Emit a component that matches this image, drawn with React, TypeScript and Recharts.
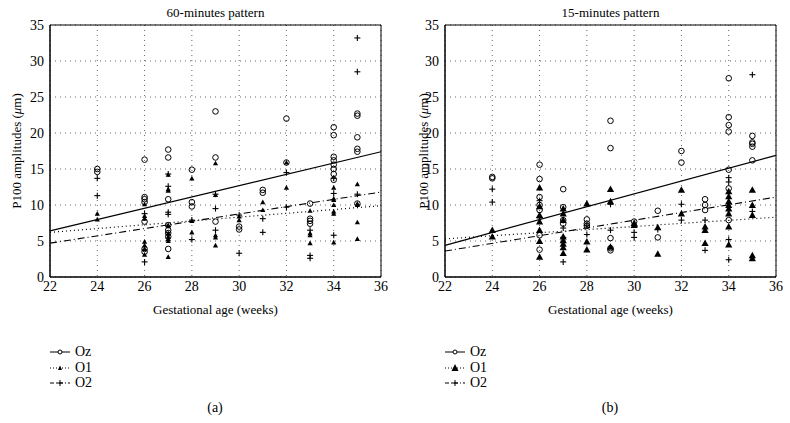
import React from "react";
import {
  ScatterChart,
  Scatter,
  XAxis,
  YAxis,
  CartesianGrid,
  ReferenceLine,
  ReferenceArea,
  Label,
} from "recharts";

// gestational weeks on the x axis, amplitude ticks on the y axis
const weekTicks = [22, 24, 26, 28, 30, 32, 34, 36];
const ampTicks = [0, 5, 10, 15, 20, 25, 30, 35];

// [week, amplitudes]
const oz60: [number, number[]][] = [
  [24, [15.0, 14.6]],
  [26, [16.3, 11.1, 10.8, 10.4, 7.7, 3.9, 3.5]],
  [27, [17.7, 16.6, 10.8, 7.2, 6.5, 6.1, 5.6, 3.9]],
  [28, [14.9, 10.4, 9.8]],
  [29, [23.0, 16.6, 7.7]],
  [30, [7.0, 6.6]],
  [31, [12.1, 11.7]],
  [32, [22.0, 15.9]],
  [33, [10.2, 8.1, 7.8, 7.4]],
  [34, [20.8, 19.7, 16.7, 16.2, 15.6, 15.0, 14.3, 13.5]],
  [35, [22.7, 22.4, 19.4, 17.8, 17.4, 10.2]],
];
const o160: [number, number[]][] = [
  [24, [8.8, 8.0]],
  [26, [10.1, 8.5, 8.1, 4.9, 4.4, 3.9, 3.1]],
  [27, [14.2, 12.2, 12.0, 7.2, 6.1, 5.6, 5.3, 5.0, 2.8]],
  [28, [13.7, 7.8, 6.2]],
  [29, [15.8, 11.4, 5.8, 5.5, 4.4]],
  [30, [8.4, 7.9]],
  [31, [10.4, 9.3]],
  [32, [15.9, 12.4]],
  [33, [9.2, 6.1, 5.8, 4.7]],
  [34, [12.4, 10.9, 10.7, 10.0, 9.1, 8.8, 4.8]],
  [35, [12.9, 10.2, 10.0, 7.6, 5.3]],
];
const o260: [number, number[]][] = [
  [24, [13.7, 11.3]],
  [26, [8.8, 2.1]],
  [27, [14.3, 12.6, 9.0, 8.7]],
  [28, [7.9, 5.2]],
  [29, [11.5, 9.5, 6.5]],
  [30, [8.6, 3.3]],
  [31, [8.1, 6.2]],
  [32, [14.5, 9.7]],
  [33, [6.5, 3.0, 2.6]],
  [34, [13.7, 11.6, 5.8]],
  [35, [33.2, 28.5, 11.5]],
];

// [week, amplitudes]
const oz15: [number, number[]][] = [
  [24, [13.9, 13.7]],
  [26, [15.6, 13.6, 11.1, 10.0, 9.3, 5.8, 3.8]],
  [27, [12.2, 9.7, 7.9, 7.4]],
  [28, [8.0, 7.4, 7.1]],
  [29, [21.7, 17.9, 5.4, 4.0, 3.7]],
  [30, [7.7]],
  [31, [9.2, 5.5]],
  [32, [17.5, 15.9]],
  [33, [10.8, 10.0, 9.3]],
  [34, [27.6, 22.2, 21.1, 20.2, 14.9, 12.3, 7.9]],
  [35, [19.6, 18.7, 18.5, 18.1, 16.2]],
];
const o115: [number, number[]][] = [
  [24, [6.5, 5.6]],
  [26, [12.4, 9.8, 8.6, 7.7, 6.5, 5.0, 2.8]],
  [27, [9.5, 8.8, 7.9, 5.6, 5.1, 4.6, 4.1, 3.3]],
  [28, [10.2, 4.9, 3.8]],
  [29, [12.2, 10.5, 4.2]],
  [30, [7.5, 7.2]],
  [31, [6.9, 3.2]],
  [32, [12.1, 8.8]],
  [33, [7.0, 6.5, 4.7]],
  [34, [11.9, 11.2, 10.5, 10.0, 9.5, 8.8, 7.0, 4.5]],
  [35, [12.1, 10.0, 8.6, 3.0, 2.6]],
];
const o215: [number, number[]][] = [
  [24, [12.2, 10.4]],
  [26, [10.6, 8.2]],
  [27, [6.8, 5.5, 2.1]],
  [28, [7.2, 5.9]],
  [29, [10.1, 6.5]],
  [30, [6.2, 5.5]],
  [31, [6.6]],
  [32, [10.1, 7.9]],
  [33, [7.9, 3.7]],
  [34, [13.8, 13.2, 5.2, 2.4]],
  [35, [28.1, 9.1]],
];

// regression lines: value at week 22 and at week 36
const fitOz60 = [6.4, 17.4];
const fitO160 = [6.2, 9.9];
const fitO260 = [4.7, 11.8];
const fitOz15 = [4.4, 16.9];
const fitO115 = [5.3, 8.3];
const fitO215 = [3.6, 11.1];

const FONT = "Liberation Serif, Times New Roman, serif";

const flat = (rows: [number, number[]][]) =>
  rows.flatMap(([w, vs]) => vs.map((v) => ({ w, v })));

const OpenCircle = (p: any) => (
  <circle cx={p.cx} cy={p.cy} r={2.8} fill="none" stroke="#000" strokeWidth={1} />
);
const Plus = (p: any) => (
  <g stroke="#000" strokeWidth={1.1}>
    <line x1={p.cx - 3} y1={p.cy} x2={p.cx + 3} y2={p.cy} />
    <line x1={p.cx} y1={p.cy - 3} x2={p.cx} y2={p.cy + 3} />
  </g>
);
const triangle = (s: number) => (p: any) => (
  <path
    d={`M${p.cx},${p.cy - s} L${p.cx + s},${p.cy + s * 0.8} L${p.cx - s},${p.cy + s * 0.8} Z`}
    fill="#000"
  />
);

type PanelProps = {
  title: string;
  left: number;
  oz: [number, number[]][];
  o1: [number, number[]][];
  o2: [number, number[]][];
  fitOz: number[];
  fit1: number[];
  fit2: number[];
  triSize: number;
  labelX: number;
};

const tickStyle = { fill: "#000", fontSize: 14, fontFamily: FONT };

const Panel = ({ title, left, oz, o1, o2, fitOz, fit1, fit2, triSize, labelX }: PanelProps) => {
  const Tri = triangle(triSize);
  return (
    <div style={{ position: "absolute", left, top: 0, width: 395, height: 330 }}>
      <div
        style={{
          position: "absolute",
          left: 50,
          width: 331,
          top: 5,
          textAlign: "center",
          fontFamily: FONT,
          fontSize: 13,
        }}
      >
        {title}
      </div>
      <ScatterChart
        width={395}
        height={330}
        margin={{ top: 25, right: 14, bottom: 13, left: 20 }}
        style={{ fontFamily: FONT }}
      >
        <CartesianGrid stroke="#666" strokeDasharray="1 4" />
        <XAxis
          type="number"
          dataKey="w"
          domain={[22, 36]}
          ticks={weekTicks}
          height={40}
          tickLine={false}
          tickSize={3}
          tickMargin={1}
          stroke="#000"
          tick={tickStyle}
        >
          <Label
            value="Gestational age (weeks)"
            position="insideBottom"
            offset={3}
            fill="#000"
            fontSize={13}
            fontFamily={FONT}
          />
        </XAxis>
        <YAxis
          type="number"
          dataKey="v"
          domain={[0, 35]}
          ticks={ampTicks}
          width={30}
          tickLine={false}
          tickSize={3}
          tickMargin={3}
          stroke="#000"
          tick={tickStyle}
        >
          <Label
            content={(p: any) => {
              const cy = p.viewBox.y + p.viewBox.height / 2;
              return (
                <text
                  x={labelX}
                  y={cy}
                  transform={`rotate(-90 ${labelX} ${cy})`}
                  textAnchor="middle"
                  dominantBaseline="central"
                  fontSize={13}
                  fontFamily={FONT}
                  fill="#000"
                >
                  P100 amplitudes (<tspan fontStyle="italic">μ</tspan>m)
                </text>
              );
            }}
          />
        </YAxis>
        <ReferenceArea x1={22} x2={36} y1={0} y2={35} fill="none" stroke="#000" strokeWidth={1} />
        <ReferenceLine
          segment={[{ x: 22, y: fitOz[0] }, { x: 36, y: fitOz[1] }]}
          stroke="#000"
          strokeWidth={1.2}
        />
        <ReferenceLine
          segment={[{ x: 22, y: fit1[0] }, { x: 36, y: fit1[1] }]}
          stroke="#000"
          strokeWidth={1.2}
          strokeDasharray="1 3"
        />
        <ReferenceLine
          segment={[{ x: 22, y: fit2[0] }, { x: 36, y: fit2[1] }]}
          stroke="#000"
          strokeWidth={1.1}
          strokeDasharray="7 3 1 3"
        />
        <Scatter data={flat(oz)} shape={OpenCircle} isAnimationActive={false} />
        <Scatter data={flat(o1)} shape={Tri} isAnimationActive={false} />
        <Scatter data={flat(o2)} shape={Plus} isAnimationActive={false} />
      </ScatterChart>
    </div>
  );
};

const LegendRow = ({ y, dash, mark, text }: { y: number; dash?: string; mark: React.ReactNode; text: string }) => (
  <div style={{ position: "absolute", top: y - 8, left: 0, height: 16, display: "flex", alignItems: "center" }}>
    <svg width={20} height={16}>
      <line x1={0} y1={8} x2={20} y2={8} stroke="#000" strokeWidth={1} strokeDasharray={dash} />
      {mark}
    </svg>
    <span style={{ marginLeft: 5, fontFamily: FONT, fontSize: 14 }}>{text}</span>
  </div>
);

const PanelLegend = ({ left, filledBig, tag, tagX }: { left: number; filledBig: boolean; tag: string; tagX: number }) => (
  <>
    <div style={{ position: "absolute", left, top: 0 }}>
      <LegendRow y={352} mark={<circle cx={10} cy={8} r={2} fill="#fff" stroke="#000" />} text="Oz" />
      <LegendRow
        y={368}
        dash="1 2"
        mark={
          filledBig ? (
            <path d="M10,4 L13.5,11 L6.5,11 Z" fill="#000" />
          ) : (
            <path d="M10,5.5 L12,10 L8,10 Z" fill="#000" />
          )
        }
        text="O1"
      />
      <LegendRow
        y={383}
        dash="4 2 1 2"
        mark={
          <g stroke="#000">
            <line x1={7} y1={8} x2={13} y2={8} />
            <line x1={10} y1={5} x2={10} y2={11} />
          </g>
        }
        text="O2"
      />
    </div>
    <div
      style={{
        position: "absolute",
        left: tagX - 20,
        width: 40,
        top: 400,
        textAlign: "center",
        fontFamily: FONT,
        fontSize: 14,
      }}
    >
      {tag}
    </div>
  </>
);

export default function App() {
  return (
    <div
      style={{
        position: "absolute",
        left: 0,
        top: 0,
        width: 790,
        height: 423,
        background: "#fff",
        fontFamily: FONT,
      }}
    >
      <Panel
        title="60-minutes pattern"
        left={0}
        oz={oz60}
        o1={o160}
        o2={o260}
        fitOz={fitOz60}
        fit1={fitO160}
        fit2={fitO260}
        triSize={2.6}
        labelX={16}
      />
      <Panel
        title="15-minutes pattern"
        left={395}
        oz={oz15}
        o1={o115}
        o2={o215}
        fitOz={fitOz15}
        fit1={fitO115}
        fit2={fitO215}
        triSize={3.6}
        labelX={28}
      />
      <PanelLegend left={50} filledBig={false} tag="(a)" tagX={215} />
      <PanelLegend left={445} filledBig={true} tag="(b)" tagX={610} />
    </div>
  );
}
